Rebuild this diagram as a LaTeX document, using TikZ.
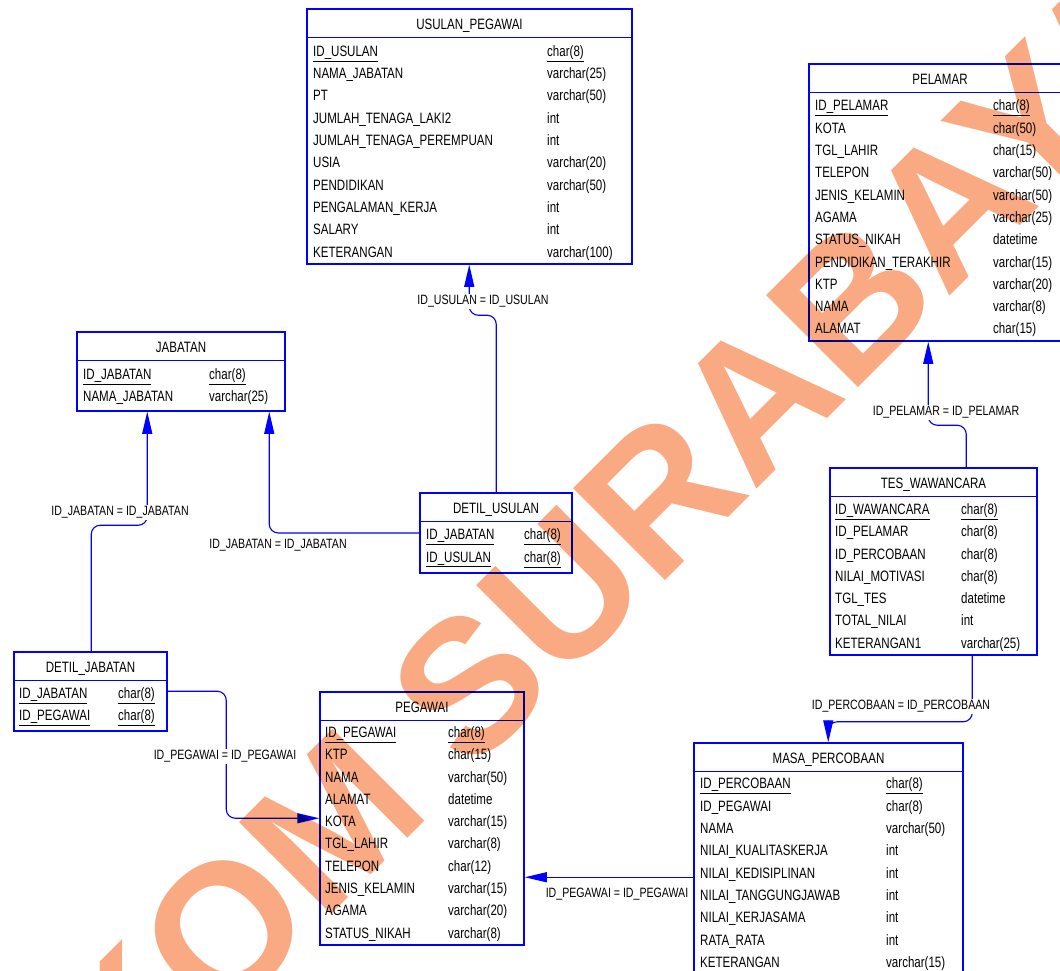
\documentclass[tikz,border=0pt]{standalone}
\usepackage{fontspec}
\setmainfont{Liberation Sans}
\newfontfamily\tblfont[FakeStretch=0.77]{Liberation Sans}
\newfontfamily\lblfont[FakeStretch=0.785]{Liberation Sans}
\newfontfamily\wmfont{Liberation Sans}
\usetikzlibrary{fit,arrows.meta}
\definecolor{erdblue}{RGB}{0,0,255}
\definecolor{wmorange}{RGB}{250,170,130}
\tikzset{
  tblbox/.style={draw=erdblue, line width=1.5pt, inner sep=0pt},
  tblline/.style={draw=erdblue, line width=1.5pt},
  tbltitle/.style={inner sep=0pt, anchor=base, font=\tblfont\fontsize{15}{15}\selectfont},
  tbltext/.style={inner sep=0pt, anchor=base west, font=\tblfont\fontsize{15}{15}\selectfont},
  rel/.style={draw=erdblue, line width=1.1pt, rounded corners=9pt, -{Triangle[length=22pt,width=10pt]}},
  rellbl/.style={fill=white, inner sep=1.5pt, anchor=base, font=\lblfont\fontsize{13.5}{13.5}\selectfont},
  wm/.style={inner sep=0pt, anchor=center, text=wmorange, rotate=45, blend mode=multiply,
    font=\wmfont\bfseries\fontsize{189}{189}\selectfont}
}
\newcommand\erdbox[6]{%
  \node[tblbox, fit={(#2,#3)(#4,#5)}] (#1) {};
  \draw[tblline] (#2,#3+28.5) -- (#4,#3+28.5);
  \node[tbltitle] (#1-title) at ({(#2+#4)/2},#3+20.9) {#6};
}
\newcommand\erdrows[5]{%
  \foreach \na/\ty/\pk [count=\i from 1] in {#5}{%
    \node[tbltext] (#1-n\i) at (#2,{#4+(\i-1)*22.3+5.4}) {\ifnum\pk=1 \underline{\na}\else\na\fi};
    \node[tbltext] (#1-t\i) at (#3,{#4+(\i-1)*22.3+5.4}) {\ifnum\pk=1 \underline{\ty}\else\ty\fi};
  }%
}
\begin{document}
\begin{tikzpicture}[x=1pt,y=-1pt]
\useasboundingbox (0,0) rectangle (1060,971);
\fill[white] (0,0) rectangle (1060,971);

% ---- tables ----
\erdbox{usulan}{307}{9}{632}{264}{USULAN\_PEGAWAI}
\erdrows{usulan}{313}{547}{51}{ID\_USULAN/char(8)/1, NAMA\_JABATAN/varchar(25)/0, PT/varchar(50)/0,
  JUMLAH\_TENAGA\_LAKI2/int/0, JUMLAH\_TENAGA\_PEREMPUAN/int/0, USIA/varchar(20)/0,
  PENDIDIKAN/varchar(50)/0, PENGALAMAN\_KERJA/int/0, SALARY/int/0, KETERANGAN/varchar(100)/0}

\erdbox{pelamar}{809}{64}{1071}{341}{PELAMAR}
\erdrows{pelamar}{815}{993}{105.5}{ID\_PELAMAR/char(8)/1, KOTA/char(50)/0, TGL\_LAHIR/char(15)/0,
  TELEPON/varchar(50)/0, JENIS\_KELAMIN/varchar(50)/0, AGAMA/varchar(25)/0, STATUS\_NIKAH/datetime/0,
  PENDIDIKAN\_TERAKHIR/varchar(15)/0, KTP/varchar(20)/0, NAMA/varchar(8)/0, ALAMAT/char(15)/0}

\erdbox{jabatan}{77}{332}{285}{411}{JABATAN}
\erdrows{jabatan}{83}{209}{374}{ID\_JABATAN/char(8)/1, NAMA\_JABATAN/varchar(25)/0}

\erdbox{detus}{420}{493}{572}{573}{DETIL\_USULAN}
\erdrows{detus}{426}{524}{534.5}{ID\_JABATAN/char(8)/1, ID\_USULAN/char(8)/1}

\erdbox{detjab}{14}{652}{167}{731}{DETIL\_JABATAN}
\erdrows{detjab}{19}{118}{693}{ID\_JABATAN/char(8)/1, ID\_PEGAWAI/char(8)/1}

\erdbox{pegawai}{320}{692}{524}{945}{PEGAWAI}
\erdrows{pegawai}{325}{448}{732}{ID\_PEGAWAI/char(8)/1, KTP/char(15)/0, NAMA/varchar(50)/0,
  ALAMAT/datetime/0, KOTA/varchar(15)/0, TGL\_LAHIR/varchar(8)/0, TELEPON/char(12)/0,
  JENIS\_KELAMIN/varchar(15)/0, AGAMA/varchar(20)/0, STATUS\_NIKAH/varchar(8)/0}

\erdbox{tes}{830}{468}{1037}{655}{TES\_WAWANCARA}
\erdrows{tes}{835}{961}{509}{ID\_WAWANCARA/char(8)/1, ID\_PELAMAR/char(8)/0, ID\_PERCOBAAN/char(8)/0,
  NILAI\_MOTIVASI/char(8)/0, TGL\_TES/datetime/0, TOTAL\_NILAI/int/0, KETERANGAN1/varchar(25)/0}

\erdbox{masa}{694}{743}{963}{976}{MASA\_PERCOBAAN}
\erdrows{masa}{700}{886}{783.5}{ID\_PERCOBAAN/char(8)/1, ID\_PEGAWAI/char(8)/0, NAMA/varchar(50)/0,
  NILAI\_KUALITASKERJA/int/0, NILAI\_KEDISIPLINAN/int/0, NILAI\_TANGGUNGJAWAB/int/0,
  NILAI\_KERJASAMA/int/0, RATA\_RATA/int/0, KETERANGAN/varchar(15)/0}

% ---- connector end points ----
\coordinate (c1s) at ([xshift=77pt]detus.north west);
\coordinate (c1e) at ([xshift=163pt]usulan.south west);
\coordinate (c2e) at ([xshift=193pt]jabatan.south west);
\coordinate (c3s) at ([xshift=78pt]detjab.north west);
\coordinate (c3e) at ([xshift=71pt]jabatan.south west);
\coordinate (c4s) at ([yshift=-40pt]detjab.north east);
\coordinate (c4e) at ([yshift=-127pt]pegawai.north west);
\coordinate (c5s) at ([yshift=-135pt]masa.north west);
\coordinate (c6s) at ([xshift=143pt]tes.south west);
\coordinate (c6e) at ([xshift=135pt]masa.north west);
\coordinate (c7s) at ([xshift=137pt]tes.north west);
\coordinate (c7e) at ([xshift=120pt]pelamar.south west);

% ---- connectors ----
\draw[rel] (c1s) -- ++(0,-177) -| (c1e);
\draw[rel] (detus.west) -| (c2e);
\draw[rel] (c3s) -- ++(0,-126) -| (c3e);
\draw[rel] (c4s) -- ++(58.5,0) |- (c4e);
\draw[rel] (c5s) -- (c5s -| pegawai.east);
\draw[rel] (c6s) -- ++(0,66) -| (c6e);
\draw[rel] (c7s) -- ++(0,-42) -| (c7e);

% ---- connector labels ----
\node[rellbl] (l1) at (483,304.8) {ID\_USULAN = ID\_USULAN};
\node[rellbl] (l2) at (278,548.8) {ID\_JABATAN = ID\_JABATAN};
\node[rellbl] (l3) at (120,515.8) {ID\_JABATAN = ID\_JABATAN};
\node[rellbl] (l4) at (225,759.8) {ID\_PEGAWAI = ID\_PEGAWAI};
\node[rellbl] (l5) at (617,897.8) {ID\_PEGAWAI = ID\_PEGAWAI};
\node[rellbl] (l6) at (901,709.8) {ID\_PERCOBAAN = ID\_PERCOBAAN};
\node[rellbl] (l7) at (946,415.8) {ID\_PELAMAR = ID\_PELAMAR};

% ---- watermark ----
\node[wm] (wm) at (513,641) {STIKOM SURABAYA};
\end{tikzpicture}
\end{document}
